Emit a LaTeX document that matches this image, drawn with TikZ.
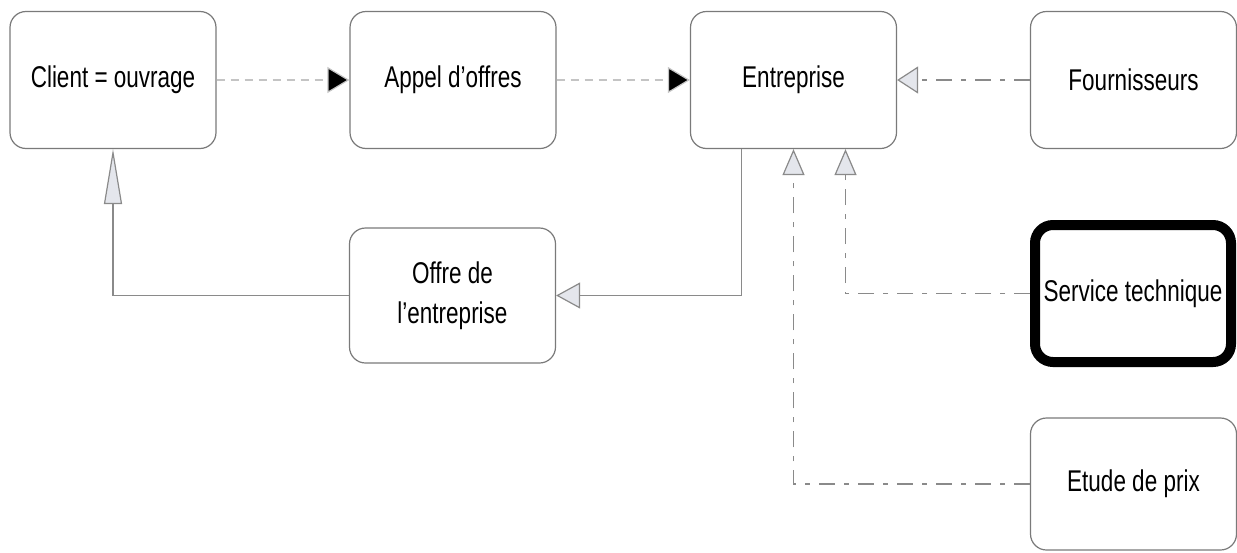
\documentclass[tikz,border=0pt]{standalone}
\usepackage{fontspec}
\setmainfont{Liberation Sans}[FakeStretch=0.75]
\usetikzlibrary{arrows.meta,calc}
\definecolor{boxline}{HTML}{7A7A7A}
\definecolor{conn}{HTML}{8A8A8A}
\definecolor{lightdash}{HTML}{C4C4C4}
\definecolor{tipfill}{HTML}{E4E6EC}
\tikzset{
  x=1pt, y=-1pt,
  box/.style={draw=boxline, line width=1.2pt, rounded corners=16pt, fill=white,
    minimum width=206pt, minimum height=137pt, align=center, inner sep=0pt,
    font=\fontsize{30}{32}\selectfont},
  thickbox/.style={box, draw=black, line width=10pt, rounded corners=18pt,
    minimum width=196pt, minimum height=137pt},
  flow/.style={draw=lightdash, line width=1.2pt, dash pattern=on 8pt off 6pt,
    -{Triangle[length=22pt,width=26pt,fill=black]}, shorten >=0pt},
  feed/.style={draw=conn, line width=1.2pt, dash pattern=on 16pt off 9pt on 5pt off 9pt,
    -{Triangle[open, length=26pt, width=22pt, fill=tipfill, line width=1.2pt]}},
  ret/.style={draw=conn, line width=1.2pt,
    -{Triangle[open, length=24pt, width=26pt, fill=tipfill, line width=1.2pt]}},
}
\begin{document}
\begin{tikzpicture}
\useasboundingbox (0,0) rectangle (1237,552);
\node[box] (client) at (113,80) {Client = ouvrage};
\node[box] (appel) at (453,80) {Appel d'offres};
\node[box] (ent) at (793.5,80) {Entreprise};
\node[box] (four) at (1133.5,80) {Fournisseurs};
\node[box, minimum height=135pt] (offre) at (452.5,295.5) {Offre de\\[8pt]l'entreprise};
\node[thickbox] (serv) at (1133,293.5) {Service technique};
\node[box, minimum height=132pt] (etude) at (1133.5,484) {Etude de prix};

\draw[flow] (client.east) -- (appel.west);
\draw[flow] (appel.east) -- (ent.west);
\draw[feed, -{Triangle[open, length=21pt, width=27pt, fill=tipfill, line width=1.2pt]}] (four.west) -- (ent.east);
\draw[ret] ([xshift=-52pt]ent.south) |- (offre.east);
\draw[ret, -{Triangle[open, length=55pt, width=18pt, fill=tipfill, line width=1.2pt]}] (offre.west) -| (client.south);
\draw[feed] (serv.west) -| ([xshift=52pt]ent.south);
\draw[feed] (etude.west) -| (ent.south);
\end{tikzpicture}
\end{document}
